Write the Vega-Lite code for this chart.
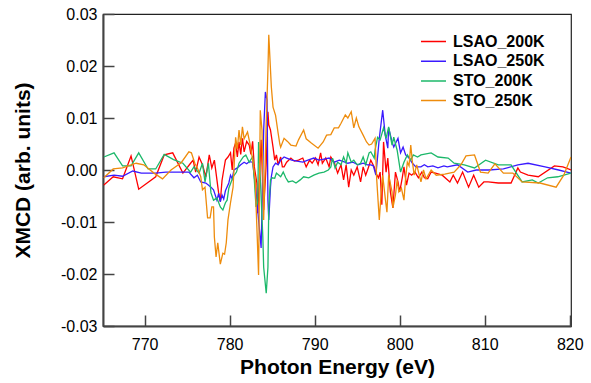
{
"$schema": "https://vega.github.io/schema/vega-lite/v6.json",
"width": 468, "height": 312,
"autosize": {"type": "none"},
"padding": {"left": 103, "top": 14, "right": 20, "bottom": 57},
"background": "white",
"config": {"view": {"stroke": "#222", "strokeWidth": 1.2}, "font": "Liberation Sans"},
"layer": [
{"mark": {"type": "rule", "color": "#5a5a5a", "strokeWidth": 2}, "encoding": {"y": {"datum": 0, "type": "quantitative"}}},
{"data": {"values": [
{"s":"LSAO_200K","e":765.2,"v":-0.0029},{"s":"LSAO_200K","e":766.3,"v":-0.0013},{"s":"LSAO_200K","e":767.4,"v":-0.0017},{"s":"LSAO_200K","e":768.4,"v":0.0027},{"s":"LSAO_200K","e":769.3,"v":-0.0037},{"s":"LSAO_200K","e":771.3,"v":-0.0013},{"s":"LSAO_200K","e":772.3,"v":0.0029},{"s":"LSAO_200K","e":773.3,"v":0.0033},{"s":"LSAO_200K","e":774.5,"v":-0.0006},{"s":"LSAO_200K","e":775.4,"v":0.0013},{"s":"LSAO_200K","e":775.7,"v":0.0019},{"s":"LSAO_200K","e":776.0,"v":-0.0004},{"s":"LSAO_200K","e":776.4,"v":0.0025},{"s":"LSAO_200K","e":776.8,"v":0.001},{"s":"LSAO_200K","e":777.2,"v":-0.0013},{"s":"LSAO_200K","e":777.6,"v":0.0029},{"s":"LSAO_200K","e":777.9,"v":0.0004},{"s":"LSAO_200K","e":778.2,"v":0.0019},{"s":"LSAO_200K","e":778.7,"v":-0.0044},{"s":"LSAO_200K","e":778.9,"v":-0.0061},{"s":"LSAO_200K","e":779.1,"v":-0.002},{"s":"LSAO_200K","e":779.3,"v":0.0},{"s":"LSAO_200K","e":779.5,"v":0.0019},{"s":"LSAO_200K","e":779.8,"v":0.0025},{"s":"LSAO_200K","e":780.1,"v":0.0033},{"s":"LSAO_200K","e":780.3,"v":0.0},{"s":"LSAO_200K","e":780.5,"v":0.0042},{"s":"LSAO_200K","e":780.7,"v":0.0052},{"s":"LSAO_200K","e":780.9,"v":0.0025},{"s":"LSAO_200K","e":781.1,"v":0.0054},{"s":"LSAO_200K","e":781.3,"v":0.003},{"s":"LSAO_200K","e":781.5,"v":0.0061},{"s":"LSAO_200K","e":781.7,"v":0.0035},{"s":"LSAO_200K","e":782.0,"v":0.0055},{"s":"LSAO_200K","e":782.3,"v":0.0048},{"s":"LSAO_200K","e":782.5,"v":0.003},{"s":"LSAO_200K","e":782.7,"v":0.0055},{"s":"LSAO_200K","e":782.9,"v":0.0006},{"s":"LSAO_200K","e":783.2,"v":-0.0025},{"s":"LSAO_200K","e":783.3,"v":-0.0083},{"s":"LSAO_200K","e":783.5,"v":-0.0013},{"s":"LSAO_200K","e":783.7,"v":0.0058},{"s":"LSAO_200K","e":783.9,"v":-0.0033},{"s":"LSAO_200K","e":784.0,"v":-0.0077},{"s":"LSAO_200K","e":784.3,"v":0.0013},{"s":"LSAO_200K","e":784.5,"v":0.0112},{"s":"LSAO_200K","e":784.6,"v":0.0087},{"s":"LSAO_200K","e":784.8,"v":0.0077},{"s":"LSAO_200K","e":785.1,"v":0.0044},{"s":"LSAO_200K","e":785.3,"v":0.0019},{"s":"LSAO_200K","e":785.5,"v":0.0029},{"s":"LSAO_200K","e":785.7,"v":0.001},{"s":"LSAO_200K","e":786.0,"v":0.0025},{"s":"LSAO_200K","e":786.2,"v":0.0006},{"s":"LSAO_200K","e":786.4,"v":0.0006},{"s":"LSAO_200K","e":786.7,"v":0.0015},{"s":"LSAO_200K","e":787.2,"v":0.0023},{"s":"LSAO_200K","e":787.6,"v":0.0017},{"s":"LSAO_200K","e":788.1,"v":0.0019},{"s":"LSAO_200K","e":788.6,"v":0.0023},{"s":"LSAO_200K","e":789.0,"v":0.0006},{"s":"LSAO_200K","e":789.4,"v":0.0019},{"s":"LSAO_200K","e":789.7,"v":0.0013},{"s":"LSAO_200K","e":790.1,"v":0.0023},{"s":"LSAO_200K","e":790.4,"v":0.001},{"s":"LSAO_200K","e":790.7,"v":0.0033},{"s":"LSAO_200K","e":790.9,"v":0.0013},{"s":"LSAO_200K","e":791.3,"v":0.0023},{"s":"LSAO_200K","e":791.7,"v":0.0006},{"s":"LSAO_200K","e":791.9,"v":0.0025},{"s":"LSAO_200K","e":792.3,"v":0.0015},{"s":"LSAO_200K","e":792.7,"v":-0.0006},{"s":"LSAO_200K","e":793.1,"v":0.001},{"s":"LSAO_200K","e":793.4,"v":-0.0019},{"s":"LSAO_200K","e":793.7,"v":0.001},{"s":"LSAO_200K","e":794.0,"v":-0.0033},{"s":"LSAO_200K","e":794.3,"v":0.0},{"s":"LSAO_200K","e":794.6,"v":-0.001},{"s":"LSAO_200K","e":795.0,"v":0.0006},{"s":"LSAO_200K","e":795.4,"v":-0.0023},{"s":"LSAO_200K","e":795.7,"v":0.0006},{"s":"LSAO_200K","e":796.0,"v":-0.001},{"s":"LSAO_200K","e":796.3,"v":0.0004},{"s":"LSAO_200K","e":796.6,"v":0.0019},{"s":"LSAO_200K","e":797.0,"v":0.0006},{"s":"LSAO_200K","e":797.2,"v":-0.0006},{"s":"LSAO_200K","e":797.5,"v":-0.0015},{"s":"LSAO_200K","e":797.7,"v":-0.0004},{"s":"LSAO_200K","e":797.9,"v":-0.0067},{"s":"LSAO_200K","e":798.1,"v":0.0054},{"s":"LSAO_200K","e":798.4,"v":-0.0004},{"s":"LSAO_200K","e":798.6,"v":0.0023},{"s":"LSAO_200K","e":798.9,"v":-0.0042},{"s":"LSAO_200K","e":799.2,"v":-0.0073},{"s":"LSAO_200K","e":799.5,"v":-0.0004},{"s":"LSAO_200K","e":799.8,"v":-0.0023},{"s":"LSAO_200K","e":800.0,"v":-0.0042},{"s":"LSAO_200K","e":800.3,"v":-0.0015},{"s":"LSAO_200K","e":800.5,"v":0.0006},{"s":"LSAO_200K","e":800.8,"v":-0.0029},{"s":"LSAO_200K","e":801.1,"v":-0.0006},{"s":"LSAO_200K","e":801.4,"v":-0.001},{"s":"LSAO_200K","e":801.8,"v":-0.0004},{"s":"LSAO_200K","e":802.2,"v":-0.0015},{"s":"LSAO_200K","e":802.6,"v":-0.0004},{"s":"LSAO_200K","e":802.9,"v":-0.0015},{"s":"LSAO_200K","e":803.3,"v":-0.0017},{"s":"LSAO_200K","e":803.7,"v":-0.0004},{"s":"LSAO_200K","e":804.2,"v":-0.0006},{"s":"LSAO_200K","e":805.0,"v":-0.001},{"s":"LSAO_200K","e":805.9,"v":-0.0023},{"s":"LSAO_200K","e":806.3,"v":-0.001},{"s":"LSAO_200K","e":806.8,"v":-0.0025},{"s":"LSAO_200K","e":807.4,"v":-0.0004},{"s":"LSAO_200K","e":808.1,"v":-0.0033},{"s":"LSAO_200K","e":808.7,"v":-0.001},{"s":"LSAO_200K","e":809.3,"v":-0.0033},{"s":"LSAO_200K","e":809.9,"v":-0.0023},{"s":"LSAO_200K","e":810.4,"v":-0.0023},{"s":"LSAO_200K","e":811.6,"v":-0.0025},{"s":"LSAO_200K","e":813.1,"v":-0.0025},{"s":"LSAO_200K","e":813.9,"v":0.0004},{"s":"LSAO_200K","e":814.2,"v":-0.0004},{"s":"LSAO_200K","e":815.1,"v":-0.001},{"s":"LSAO_200K","e":816.3,"v":-0.0013},{"s":"LSAO_200K","e":818.2,"v":0.0008},{"s":"LSAO_200K","e":819.2,"v":0.0006},{"s":"LSAO_200K","e":820.15,"v":0.0},
{"s":"LSAO_250K","e":765.2,"v":-0.0013},{"s":"LSAO_250K","e":766.4,"v":-0.001},{"s":"LSAO_250K","e":767.4,"v":-0.0012},{"s":"LSAO_250K","e":768.6,"v":-0.0002},{"s":"LSAO_250K","e":769.6,"v":-0.0006},{"s":"LSAO_250K","e":771.3,"v":-0.0006},{"s":"LSAO_250K","e":772.5,"v":-0.0004},{"s":"LSAO_250K","e":774.3,"v":-0.0004},{"s":"LSAO_250K","e":775.2,"v":-0.0004},{"s":"LSAO_250K","e":775.8,"v":-0.0015},{"s":"LSAO_250K","e":776.2,"v":-0.001},{"s":"LSAO_250K","e":776.6,"v":-0.0023},{"s":"LSAO_250K","e":777.2,"v":-0.0025},{"s":"LSAO_250K","e":777.8,"v":-0.0033},{"s":"LSAO_250K","e":778.1,"v":-0.0038},{"s":"LSAO_250K","e":778.5,"v":-0.0058},{"s":"LSAO_250K","e":778.7,"v":-0.0045},{"s":"LSAO_250K","e":778.9,"v":-0.0061},{"s":"LSAO_250K","e":779.1,"v":-0.0048},{"s":"LSAO_250K","e":779.3,"v":-0.0056},{"s":"LSAO_250K","e":779.5,"v":-0.004},{"s":"LSAO_250K","e":779.9,"v":-0.0025},{"s":"LSAO_250K","e":780.1,"v":-0.001},{"s":"LSAO_250K","e":780.3,"v":-0.0017},{"s":"LSAO_250K","e":780.5,"v":0.0},{"s":"LSAO_250K","e":780.9,"v":0.0004},{"s":"LSAO_250K","e":781.3,"v":0.001},{"s":"LSAO_250K","e":781.7,"v":0.0015},{"s":"LSAO_250K","e":782.0,"v":0.0012},{"s":"LSAO_250K","e":782.3,"v":0.0016},{"s":"LSAO_250K","e":782.7,"v":0.0015},{"s":"LSAO_250K","e":782.9,"v":-0.0013},{"s":"LSAO_250K","e":783.2,"v":-0.0058},{"s":"LSAO_250K","e":783.4,"v":-0.0096},{"s":"LSAO_250K","e":783.7,"v":-0.015},{"s":"LSAO_250K","e":783.8,"v":-0.0075},{"s":"LSAO_250K","e":784.0,"v":0.0077},{"s":"LSAO_250K","e":784.2,"v":0.015},{"s":"LSAO_250K","e":784.4,"v":0.0135},{"s":"LSAO_250K","e":784.5,"v":-0.0058},{"s":"LSAO_250K","e":784.6,"v":-0.0096},{"s":"LSAO_250K","e":784.8,"v":-0.0033},{"s":"LSAO_250K","e":784.9,"v":-0.0013},{"s":"LSAO_250K","e":785.1,"v":0.0006},{"s":"LSAO_250K","e":785.4,"v":0.0013},{"s":"LSAO_250K","e":785.7,"v":0.001},{"s":"LSAO_250K","e":786.0,"v":0.0019},{"s":"LSAO_250K","e":786.4,"v":0.0025},{"s":"LSAO_250K","e":786.7,"v":0.0023},{"s":"LSAO_250K","e":787.3,"v":0.0019},{"s":"LSAO_250K","e":787.9,"v":0.0017},{"s":"LSAO_250K","e":788.6,"v":0.0015},{"s":"LSAO_250K","e":789.2,"v":0.0019},{"s":"LSAO_250K","e":789.9,"v":0.0023},{"s":"LSAO_250K","e":790.5,"v":0.0019},{"s":"LSAO_250K","e":791.1,"v":0.0021},{"s":"LSAO_250K","e":791.7,"v":0.0023},{"s":"LSAO_250K","e":792.3,"v":0.0015},{"s":"LSAO_250K","e":792.9,"v":0.0019},{"s":"LSAO_250K","e":793.4,"v":0.0016},{"s":"LSAO_250K","e":793.9,"v":0.0013},{"s":"LSAO_250K","e":794.5,"v":0.0015},{"s":"LSAO_250K","e":795.1,"v":0.001},{"s":"LSAO_250K","e":795.7,"v":0.0013},{"s":"LSAO_250K","e":796.2,"v":0.001},{"s":"LSAO_250K","e":796.6,"v":0.001},{"s":"LSAO_250K","e":796.9,"v":0.0008},{"s":"LSAO_250K","e":797.2,"v":-0.001},{"s":"LSAO_250K","e":797.6,"v":0.0061},{"s":"LSAO_250K","e":798.0,"v":0.0115},{"s":"LSAO_250K","e":798.3,"v":0.0067},{"s":"LSAO_250K","e":798.6,"v":0.0042},{"s":"LSAO_250K","e":798.7,"v":0.0081},{"s":"LSAO_250K","e":799.1,"v":0.0054},{"s":"LSAO_250K","e":799.3,"v":0.0044},{"s":"LSAO_250K","e":799.8,"v":0.0061},{"s":"LSAO_250K","e":800.1,"v":0.0033},{"s":"LSAO_250K","e":800.4,"v":0.0044},{"s":"LSAO_250K","e":800.7,"v":0.0029},{"s":"LSAO_250K","e":801.1,"v":0.0023},{"s":"LSAO_250K","e":801.5,"v":0.0013},{"s":"LSAO_250K","e":801.9,"v":0.0006},{"s":"LSAO_250K","e":802.5,"v":0.0006},{"s":"LSAO_250K","e":802.9,"v":0.001},{"s":"LSAO_250K","e":803.3,"v":0.0006},{"s":"LSAO_250K","e":803.9,"v":0.0008},{"s":"LSAO_250K","e":804.5,"v":0.0004},{"s":"LSAO_250K","e":805.2,"v":0.0008},{"s":"LSAO_250K","e":805.6,"v":0.0006},{"s":"LSAO_250K","e":806.8,"v":0.001},{"s":"LSAO_250K","e":808.0,"v":-0.0004},{"s":"LSAO_250K","e":809.0,"v":0.0},{"s":"LSAO_250K","e":810.5,"v":0.0},{"s":"LSAO_250K","e":812.2,"v":0.0002},{"s":"LSAO_250K","e":813.9,"v":0.001},{"s":"LSAO_250K","e":815.1,"v":0.0013},{"s":"LSAO_250K","e":817.1,"v":0.0006},{"s":"LSAO_250K","e":818.7,"v":0.0},{"s":"LSAO_250K","e":820.15,"v":-0.0006},
{"s":"STO_200K","e":765.2,"v":0.0025},{"s":"STO_200K","e":766.4,"v":0.0033},{"s":"STO_200K","e":767.4,"v":0.0008},{"s":"STO_200K","e":768.4,"v":0.0008},{"s":"STO_200K","e":769.3,"v":0.0033},{"s":"STO_200K","e":770.4,"v":0.0002},{"s":"STO_200K","e":771.3,"v":0.0002},{"s":"STO_200K","e":772.3,"v":0.003},{"s":"STO_200K","e":773.4,"v":0.002},{"s":"STO_200K","e":774.5,"v":0.0013},{"s":"STO_200K","e":775.4,"v":-0.0004},{"s":"STO_200K","e":775.8,"v":0.0006},{"s":"STO_200K","e":776.4,"v":-0.0006},{"s":"STO_200K","e":776.8,"v":0.0013},{"s":"STO_200K","e":777.1,"v":-0.0023},{"s":"STO_200K","e":777.5,"v":0.0013},{"s":"STO_200K","e":777.8,"v":-0.0044},{"s":"STO_200K","e":778.1,"v":-0.0058},{"s":"STO_200K","e":778.5,"v":-0.0054},{"s":"STO_200K","e":778.9,"v":-0.0071},{"s":"STO_200K","e":779.2,"v":-0.0077},{"s":"STO_200K","e":779.5,"v":-0.0063},{"s":"STO_200K","e":779.7,"v":-0.0058},{"s":"STO_200K","e":779.9,"v":-0.0035},{"s":"STO_200K","e":780.4,"v":-0.0013},{"s":"STO_200K","e":780.8,"v":-0.0004},{"s":"STO_200K","e":781.1,"v":0.0013},{"s":"STO_200K","e":781.6,"v":0.0025},{"s":"STO_200K","e":781.9,"v":0.0029},{"s":"STO_200K","e":782.3,"v":0.0015},{"s":"STO_200K","e":782.7,"v":0.0025},{"s":"STO_200K","e":782.9,"v":-0.0019},{"s":"STO_200K","e":783.1,"v":-0.0071},{"s":"STO_200K","e":783.3,"v":-0.0062},{"s":"STO_200K","e":783.4,"v":0.0054},{"s":"STO_200K","e":783.6,"v":-0.0013},{"s":"STO_200K","e":783.9,"v":-0.0129},{"s":"STO_200K","e":784.0,"v":-0.0187},{"s":"STO_200K","e":784.3,"v":-0.0237},{"s":"STO_200K","e":784.5,"v":-0.0187},{"s":"STO_200K","e":784.6,"v":-0.0071},{"s":"STO_200K","e":784.8,"v":-0.0019},{"s":"STO_200K","e":785.0,"v":-0.0015},{"s":"STO_200K","e":785.3,"v":-0.0016},{"s":"STO_200K","e":785.5,"v":-0.0006},{"s":"STO_200K","e":785.8,"v":-0.001},{"s":"STO_200K","e":786.0,"v":-0.0013},{"s":"STO_200K","e":786.3,"v":-0.0004},{"s":"STO_200K","e":786.6,"v":-0.0015},{"s":"STO_200K","e":786.9,"v":-0.0023},{"s":"STO_200K","e":787.4,"v":-0.0021},{"s":"STO_200K","e":787.8,"v":-0.0025},{"s":"STO_200K","e":788.3,"v":-0.0019},{"s":"STO_200K","e":788.7,"v":-0.0013},{"s":"STO_200K","e":789.3,"v":-0.0015},{"s":"STO_200K","e":789.9,"v":-0.001},{"s":"STO_200K","e":790.5,"v":-0.0006},{"s":"STO_200K","e":791.1,"v":-0.0004},{"s":"STO_200K","e":791.6,"v":0.0},{"s":"STO_200K","e":791.9,"v":0.0006},{"s":"STO_200K","e":792.1,"v":0.0023},{"s":"STO_200K","e":792.4,"v":0.0004},{"s":"STO_200K","e":792.7,"v":0.0015},{"s":"STO_200K","e":793.1,"v":0.001},{"s":"STO_200K","e":793.4,"v":0.0025},{"s":"STO_200K","e":793.7,"v":0.0013},{"s":"STO_200K","e":793.9,"v":0.0033},{"s":"STO_200K","e":794.3,"v":0.0015},{"s":"STO_200K","e":794.6,"v":0.0019},{"s":"STO_200K","e":795.0,"v":0.001},{"s":"STO_200K","e":795.4,"v":0.0013},{"s":"STO_200K","e":795.7,"v":0.0025},{"s":"STO_200K","e":796.0,"v":0.001},{"s":"STO_200K","e":796.4,"v":0.0033},{"s":"STO_200K","e":796.6,"v":0.0035},{"s":"STO_200K","e":797.0,"v":0.0023},{"s":"STO_200K","e":797.1,"v":0.0038},{"s":"STO_200K","e":797.4,"v":0.0063},{"s":"STO_200K","e":797.7,"v":0.0058},{"s":"STO_200K","e":798.1,"v":0.0081},{"s":"STO_200K","e":798.4,"v":0.0061},{"s":"STO_200K","e":798.7,"v":0.0083},{"s":"STO_200K","e":799.1,"v":0.0048},{"s":"STO_200K","e":799.3,"v":0.0063},{"s":"STO_200K","e":799.7,"v":0.0038},{"s":"STO_200K","e":800.1,"v":-0.0004},{"s":"STO_200K","e":800.5,"v":0.0015},{"s":"STO_200K","e":800.9,"v":0.0029},{"s":"STO_200K","e":801.3,"v":0.0019},{"s":"STO_200K","e":801.6,"v":0.0029},{"s":"STO_200K","e":802.1,"v":0.0025},{"s":"STO_200K","e":802.5,"v":0.0029},{"s":"STO_200K","e":803.1,"v":0.0031},{"s":"STO_200K","e":803.7,"v":0.0033},{"s":"STO_200K","e":804.5,"v":0.0025},{"s":"STO_200K","e":805.7,"v":0.0023},{"s":"STO_200K","e":806.4,"v":0.0013},{"s":"STO_200K","e":807.6,"v":0.001},{"s":"STO_200K","e":808.8,"v":0.0004},{"s":"STO_200K","e":810.1,"v":0.0019},{"s":"STO_200K","e":811.6,"v":0.001},{"s":"STO_200K","e":813.1,"v":0.001},{"s":"STO_200K","e":814.4,"v":-0.0023},{"s":"STO_200K","e":815.6,"v":-0.0019},{"s":"STO_200K","e":816.3,"v":-0.0025},{"s":"STO_200K","e":817.4,"v":-0.0015},{"s":"STO_200K","e":818.6,"v":-0.0013},{"s":"STO_200K","e":820.15,"v":-0.0006},
{"s":"STO_250K","e":765.2,"v":-0.0015},{"s":"STO_250K","e":766.3,"v":0.0002},{"s":"STO_250K","e":767.4,"v":0.0004},{"s":"STO_250K","e":769.0,"v":0.0013},{"s":"STO_250K","e":769.9,"v":0.001},{"s":"STO_250K","e":771.1,"v":-0.0006},{"s":"STO_250K","e":772.1,"v":-0.0017},{"s":"STO_250K","e":773.1,"v":0.0},{"s":"STO_250K","e":774.3,"v":0.0014},{"s":"STO_250K","e":775.2,"v":0.0035},{"s":"STO_250K","e":775.5,"v":0.0033},{"s":"STO_250K","e":775.9,"v":0.0013},{"s":"STO_250K","e":776.2,"v":0.0004},{"s":"STO_250K","e":776.6,"v":-0.0013},{"s":"STO_250K","e":776.8,"v":-0.0038},{"s":"STO_250K","e":777.1,"v":-0.0033},{"s":"STO_250K","e":777.4,"v":-0.0092},{"s":"STO_250K","e":777.7,"v":-0.0092},{"s":"STO_250K","e":777.9,"v":-0.0071},{"s":"STO_250K","e":778.1,"v":-0.0071},{"s":"STO_250K","e":778.2,"v":-0.0129},{"s":"STO_250K","e":778.4,"v":-0.0167},{"s":"STO_250K","e":778.6,"v":-0.014},{"s":"STO_250K","e":778.9,"v":-0.0181},{"s":"STO_250K","e":779.2,"v":-0.016},{"s":"STO_250K","e":779.4,"v":-0.0162},{"s":"STO_250K","e":779.6,"v":-0.014},{"s":"STO_250K","e":779.8,"v":-0.0096},{"s":"STO_250K","e":780.1,"v":-0.0063},{"s":"STO_250K","e":780.4,"v":-0.0033},{"s":"STO_250K","e":780.5,"v":0.0},{"s":"STO_250K","e":780.7,"v":0.0063},{"s":"STO_250K","e":780.9,"v":0.004},{"s":"STO_250K","e":781.1,"v":0.0077},{"s":"STO_250K","e":781.3,"v":0.0048},{"s":"STO_250K","e":781.5,"v":0.0083},{"s":"STO_250K","e":781.7,"v":0.006},{"s":"STO_250K","e":782.1,"v":0.0073},{"s":"STO_250K","e":782.4,"v":0.005},{"s":"STO_250K","e":782.7,"v":0.0019},{"s":"STO_250K","e":783.0,"v":-0.0019},{"s":"STO_250K","e":783.2,"v":-0.011},{"s":"STO_250K","e":783.4,"v":-0.0202},{"s":"STO_250K","e":783.6,"v":0.0115},{"s":"STO_250K","e":783.8,"v":0.0077},{"s":"STO_250K","e":784.0,"v":-0.0096},{"s":"STO_250K","e":784.3,"v":0.009},{"s":"STO_250K","e":784.5,"v":0.0192},{"s":"STO_250K","e":784.6,"v":0.026},{"s":"STO_250K","e":784.9,"v":0.016},{"s":"STO_250K","e":785.1,"v":0.0121},{"s":"STO_250K","e":785.4,"v":0.0105},{"s":"STO_250K","e":785.7,"v":0.0071},{"s":"STO_250K","e":785.9,"v":0.005},{"s":"STO_250K","e":786.0,"v":0.0044},{"s":"STO_250K","e":786.4,"v":0.0061},{"s":"STO_250K","e":786.8,"v":0.0055},{"s":"STO_250K","e":787.2,"v":0.0048},{"s":"STO_250K","e":787.8,"v":0.0046},{"s":"STO_250K","e":788.1,"v":0.0058},{"s":"STO_250K","e":788.7,"v":0.0077},{"s":"STO_250K","e":789.0,"v":0.006},{"s":"STO_250K","e":789.6,"v":0.0052},{"s":"STO_250K","e":790.4,"v":0.0042},{"s":"STO_250K","e":791.0,"v":0.0054},{"s":"STO_250K","e":791.4,"v":0.0067},{"s":"STO_250K","e":791.9,"v":0.0068},{"s":"STO_250K","e":792.3,"v":0.0081},{"s":"STO_250K","e":792.8,"v":0.0081},{"s":"STO_250K","e":793.1,"v":0.009},{"s":"STO_250K","e":793.6,"v":0.0106},{"s":"STO_250K","e":793.9,"v":0.01},{"s":"STO_250K","e":794.3,"v":0.0112},{"s":"STO_250K","e":794.6,"v":0.0081},{"s":"STO_250K","e":794.9,"v":0.01},{"s":"STO_250K","e":795.2,"v":0.0083},{"s":"STO_250K","e":795.7,"v":0.0067},{"s":"STO_250K","e":796.1,"v":0.0054},{"s":"STO_250K","e":796.4,"v":0.0048},{"s":"STO_250K","e":796.7,"v":0.005},{"s":"STO_250K","e":797.1,"v":0.0061},{"s":"STO_250K","e":797.3,"v":-0.0019},{"s":"STO_250K","e":797.6,"v":-0.0096},{"s":"STO_250K","e":797.8,"v":-0.0048},{"s":"STO_250K","e":798.0,"v":-0.001},{"s":"STO_250K","e":798.3,"v":-0.0054},{"s":"STO_250K","e":798.5,"v":-0.0081},{"s":"STO_250K","e":798.7,"v":-0.001},{"s":"STO_250K","e":799.1,"v":-0.0042},{"s":"STO_250K","e":799.2,"v":-0.0073},{"s":"STO_250K","e":799.5,"v":-0.0048},{"s":"STO_250K","e":799.7,"v":-0.0019},{"s":"STO_250K","e":799.9,"v":-0.0042},{"s":"STO_250K","e":800.2,"v":-0.0035},{"s":"STO_250K","e":800.5,"v":-0.0058},{"s":"STO_250K","e":800.7,"v":-0.0015},{"s":"STO_250K","e":800.9,"v":0.0015},{"s":"STO_250K","e":801.1,"v":0.0008},{"s":"STO_250K","e":801.3,"v":0.0048},{"s":"STO_250K","e":801.5,"v":0.0015},{"s":"STO_250K","e":801.7,"v":-0.001},{"s":"STO_250K","e":802.0,"v":0.001},{"s":"STO_250K","e":802.5,"v":-0.0023},{"s":"STO_250K","e":802.8,"v":0.0},{"s":"STO_250K","e":803.1,"v":-0.0017},{"s":"STO_250K","e":803.7,"v":0.0},{"s":"STO_250K","e":804.3,"v":-0.001},{"s":"STO_250K","e":805.3,"v":-0.0008},{"s":"STO_250K","e":806.4,"v":-0.0004},{"s":"STO_250K","e":807.2,"v":0.001},{"s":"STO_250K","e":807.8,"v":0.0027},{"s":"STO_250K","e":808.8,"v":0.0029},{"s":"STO_250K","e":809.5,"v":-0.0004},{"s":"STO_250K","e":810.4,"v":-0.0006},{"s":"STO_250K","e":811.2,"v":0.0012},{"s":"STO_250K","e":812.2,"v":-0.0006},{"s":"STO_250K","e":813.3,"v":-0.0006},{"s":"STO_250K","e":814.4,"v":-0.0023},{"s":"STO_250K","e":816.5,"v":-0.0025},{"s":"STO_250K","e":818.4,"v":-0.0033},{"s":"STO_250K","e":819.3,"v":-0.001},{"s":"STO_250K","e":820.15,"v":0.0025}
]},
"mark": {"type": "line", "strokeWidth": 1.3, "clip": true},
"encoding": {
"x": {"field": "e", "type": "quantitative", "scale": {"domain": [765.1, 820.15], "nice": false, "zero": false},
 "axis": {"values": [770, 780, 790, 800, 810, 820], "title": "Photon Energy (eV)", "grid": false, "tickSize": -11, "tickWidth": 1.5, "tickColor": "#444", "domainColor": "#444", "domainWidth": 2, "labelFontSize": 16, "labelColor": "#000", "labelPadding": 21, "titleFontSize": 21, "titleFontWeight": "bold", "titleColor": "#000", "titlePadding": 4}},
"y": {"field": "v", "type": "quantitative", "scale": {"domain": [-0.03, 0.03], "nice": false, "zero": false},
 "axis": {"values": [-0.03, -0.02, -0.01, 0, 0.01, 0.02, 0.03], "labelExpr": "datum.value < 0 ? '-' + format(-datum.value, '.2f') : format(datum.value, '.2f')", "title": "XMCD (arb. units)", "grid": false, "tickSize": -11, "tickWidth": 1.5, "tickColor": "#444", "domainColor": "#444", "domainWidth": 2, "labelFontSize": 16, "labelColor": "#000", "labelPadding": 17, "titleFontSize": 21, "titleFontWeight": "bold", "titleColor": "#000", "titlePadding": 27}},
"color": {"field": "s", "type": "nominal", "sort": null,
 "scale": {"domain": ["LSAO_200K", "LSAO_250K", "STO_200K", "STO_250K"], "range": ["#ff0000", "#3a1aff", "#1cb86a", "#ee8c0c"]},
 "legend": {"title": null, "orient": "none", "legendX": 317, "legendY": 19, "symbolType": "stroke", "symbolSize": 625, "symbolStrokeWidth": 1.5, "labelFontSize": 16, "labelFontWeight": "bold", "labelColor": "#000", "labelOffset": 6, "clipHeight": 17, "rowPadding": 2.7}}
}}
]
}
